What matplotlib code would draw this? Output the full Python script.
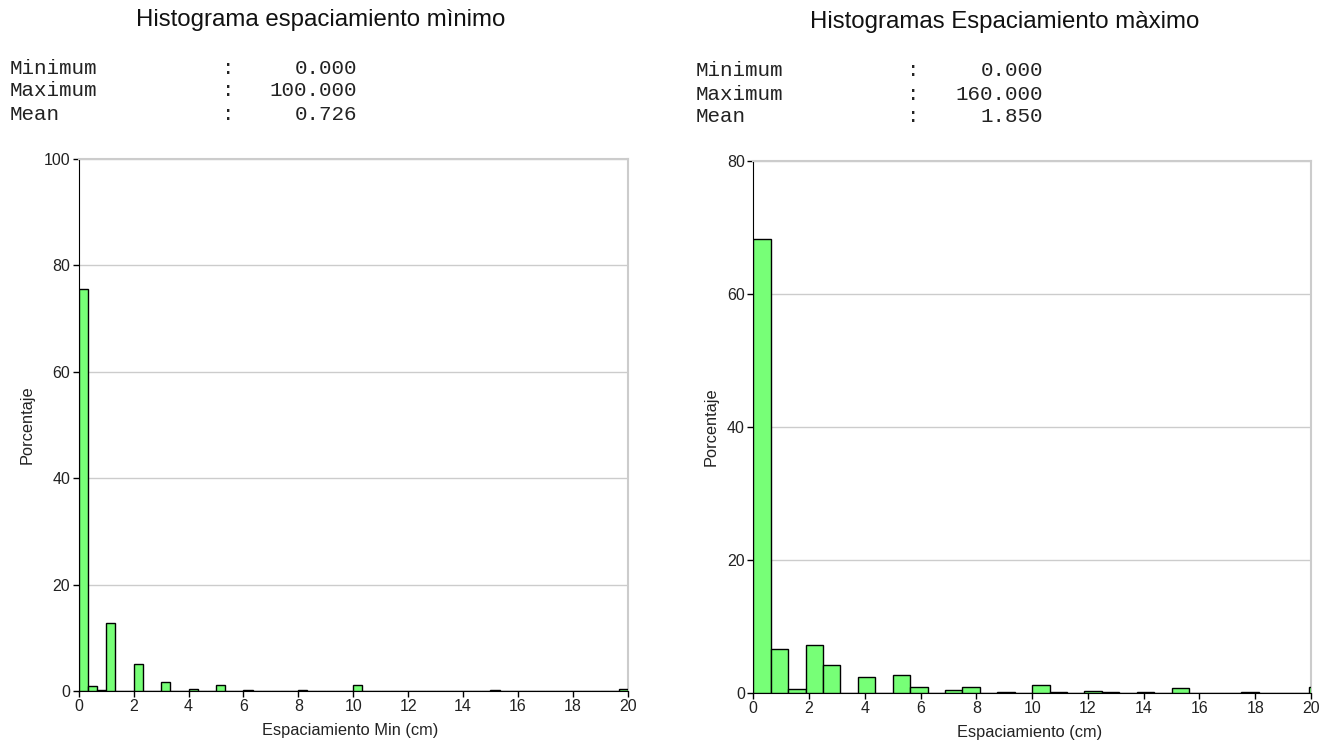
import numpy as np
import matplotlib
matplotlib.use("Agg")
import matplotlib.pyplot as plt

# ---------------- data ----------------
left_title = "Histograma espaciamiento mìnimo"
right_title = "Histogramas Espaciamiento màximo"
left_xlabel = "Espaciamiento Min (cm)"
right_xlabel = "Espaciamiento (cm)"
ylabel = "Porcentaje"

stat_names = ["Minimum", "Maximum", "Mean"]
left_stats = ["0.000", "100.000", "0.726"]
right_stats = ["0.000", "160.000", "1.850"]

# left histogram: 60 bins of width 1/3 over 0..20
left_bin_width = 1.0 / 3.0
left_pct = [0.0] * 60
left_pct[0] = 75.6
left_pct[1] = 0.85
left_pct[2] = 0.1
left_pct[3] = 12.8
left_pct[6] = 5.0
left_pct[9] = 1.6
left_pct[12] = 0.3
left_pct[15] = 1.1
left_pct[18] = 0.1
left_pct[21] = 0.05
left_pct[24] = 0.15
left_pct[30] = 1.1
left_pct[45] = 0.15
left_pct[59] = 0.3

# right histogram: 32 bins of width 0.625 over 0..20 (+ clipped overflow bar)
right_bin_width = 0.625
right_pct = [68.3, 6.6, 0.55, 7.2, 4.1, 0.0, 2.3, 0.0,
             2.7, 0.9, 0.0, 0.4, 0.8, 0.0, 0.05, 0.0,
             1.2, 0.05, 0.0, 0.3, 0.05, 0.0, 0.08, 0.0,
             0.7, 0.0, 0.0, 0.0, 0.05, 0.0, 0.0, 0.0]
right_overflow_left = 19.93
right_overflow_pct = 0.9

left_yticks = [0, 20, 40, 60, 80, 100]
right_yticks = [0, 20, 40, 60, 80]
xticks = list(range(0, 21, 2))

# ---------------- style ----------------
BAR_COLOR = "#77ff77"
GRID = "#cccccc"
W, H = 1331, 743
FONT = "Liberation Sans"

fig = plt.figure(figsize=(W / 100, H / 100), dpi=100)
fig.patch.set_facecolor("white")

def px_axes(x0, x1, ytop, ybot):
    return fig.add_axes([x0 / W, (H - ybot) / H, (x1 - x0) / W, (ybot - ytop) / H])

def style_axes(ax, ymax, yticks):
    ax.set_xlim(0, 20)
    ax.set_ylim(0, ymax)
    ax.set_xticks(xticks)
    ax.set_yticks(yticks)
    ax.tick_params(direction="out", length=4, width=1, color="black",
                   labelsize=11.5, pad=2)
    for lab in ax.get_xticklabels() + ax.get_yticklabels():
        lab.set_fontfamily(FONT)
        lab.set_color("#222222")
    ax.yaxis.grid(True, color=GRID, lw=1)
    ax.set_axisbelow(True)
    ax.spines["left"].set_color("black")
    ax.spines["bottom"].set_color("black")
    ax.spines["top"].set_color(GRID)
    ax.spines["right"].set_color(GRID)
    ax.spines["top"].set_linewidth(1.5)
    ax.spines["right"].set_linewidth(1.5)

def labels(ax, xlabel, xl_coords, yl_coords):
    ax.set_xlabel(xlabel, fontsize=11.8, family=FONT, va="center", color="#222222")
    ax.set_ylabel(ylabel, fontsize=11.8, family=FONT, va="center", color="#222222")
    ax.xaxis.set_label_coords(*xl_coords)
    ax.yaxis.set_label_coords(*yl_coords)

# ---- left ----
axL = px_axes(78.7, 627.7, 159, 691)
lx = np.arange(len(left_pct)) * left_bin_width
axL.bar(lx, left_pct, width=left_bin_width, align="edge",
        color=BAR_COLOR, edgecolor="black", linewidth=1, zorder=3)
style_axes(axL, 100, left_yticks)
labels(axL, left_xlabel, ((350 - 78.7) / 549, (691 - 731) / 532),
       ((27 - 78.7) / 549, 0.5))

# ---- right ----
axR = px_axes(753.3, 1311, 161, 692.7)
rx = np.arange(len(right_pct)) * right_bin_width
axR.bar(rx, right_pct, width=right_bin_width, align="edge",
        color=BAR_COLOR, edgecolor="black", linewidth=1, zorder=3)
axR.bar([right_overflow_left], [right_overflow_pct], width=right_bin_width,
        align="edge", color=BAR_COLOR, edgecolor="black", linewidth=1, zorder=3)
style_axes(axR, 80, right_yticks)
labels(axR, right_xlabel, ((1030 - 753.3) / 557.7, (692.7 - 733) / 531.7),
       ((711 - 753.3) / 557.7, 0.5))

# ---- titles ----
fig.text(321 / W, 1 - 20 / H, left_title, ha="center", va="center",
         fontsize=17.3, family=FONT, color="#111111")
fig.text(1005 / W, 1 - 22 / H, right_title, ha="center", va="center",
         fontsize=17.3, family=FONT, color="#111111")

# ---- stats blocks ----
def stats(x_name, x_colon, x_val, ys, values):
    for name, val, y in zip(stat_names, values, ys):
        kw = dict(va="center", fontsize=15, family="Liberation Mono", color="#222222")
        fig.text(x_name / W, 1 - y / H, name, ha="left", **kw)
        fig.text(x_colon / W, 1 - y / H, ":", ha="center", **kw)
        fig.text(x_val / W, 1 - y / H, val, ha="right", **kw)

stats(10, 228, 357, [69, 91, 114], left_stats)
stats(696, 913, 1043, [71, 94, 117], right_stats)

fig.savefig("out.png", dpi=100, facecolor="white")
